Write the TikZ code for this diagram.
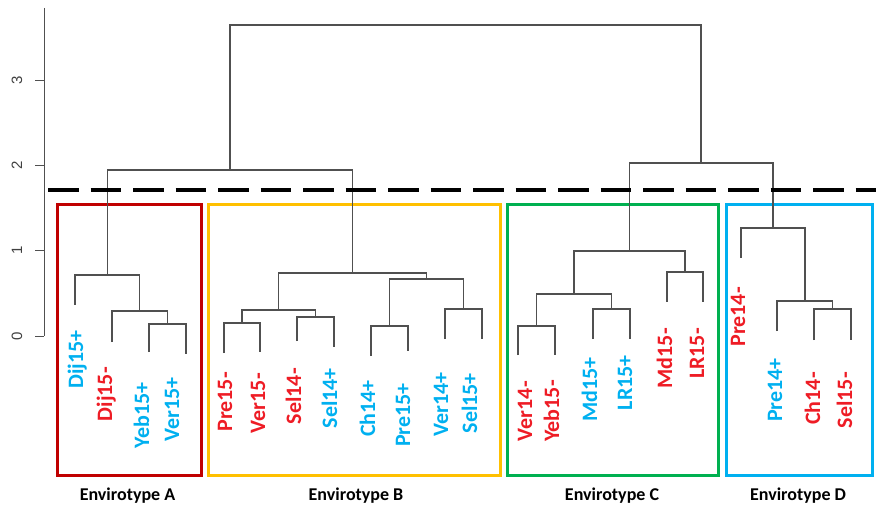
\documentclass[tikz,border=0pt]{standalone}
\usepackage{fontspec}
\setmainfont{Carlito}
\newfontfamily\axisfont{Liberation Sans}
\definecolor{treegray}{HTML}{505050}
\definecolor{plusblue}{HTML}{00B0F0}
\definecolor{minusred}{HTML}{EE1C25}
\definecolor{boxred}{HTML}{C00000}
\definecolor{boxyellow}{HTML}{FFC000}
\definecolor{boxgreen}{HTML}{00B050}
\definecolor{boxblue}{HTML}{00B0F0}
\tikzset{
  link/.style={draw=treegray, line width=1.2pt},
  leaflab/.style={rotate=90, anchor=east, inner sep=0pt,
    font=\bfseries\fontsize{22}{22}\selectfont, text height=0.64em, text depth=0pt},
  pluslab/.style={leaflab, text=plusblue},
  minuslab/.style={leaflab, text=minusred},
  ticklab/.style={rotate=90, inner sep=0pt, text=black!75, font=\axisfont\fontsize{15}{15}\selectfont},
  envbox/.style={line width=3pt},
  envlab/.style={anchor=base, inner sep=0pt, font=\bfseries\fontsize{18}{18}\selectfont},
  cutline/.style={line width=4.5pt, dash pattern=on 30.5pt off 12pt}
}
\begin{document}
\begin{tikzpicture}[x=1pt, y=-1pt]
    \useasboundingbox (0,0) rectangle (876,505);

    % height axis
    \draw[treegray, line width=1pt] (44,8) -- (44,336);
    \draw[treegray, line width=1pt] (35,336) -- (44,336) (35,250.7) -- (44,250.7)
      (35,165.4) -- (44,165.4) (35,80.1) -- (44,80.1);
    \node[ticklab] (t0) at (17,336) {0};
    \node[ticklab] (t1) at (17,250.7) {1};
    \node[ticklab] (t2) at (17,165.4) {2};
    \node[ticklab] (t3) at (17,80.1) {3};

    % envirotype boxes
    \draw[envbox, boxred] (57.7,205) rectangle (201.7,475);
    \draw[envbox, boxyellow] (208.3,205) rectangle (500,475);
    \draw[envbox, boxgreen] (507,205) rectangle (718.5,475);
    \draw[envbox, boxblue] (726,205) rectangle (872,475);
    \node[envlab] (enva) at (127.5,500) {Envirotype A};
    \node[envlab] (envb) at (356,500) {Envirotype B};
    \node[envlab] (envc) at (612,500) {Envirotype C};
    \node[envlab] (envd) at (798,500) {Envirotype D};

    % leaves
    \coordinate (dijp) at (75,305);    \node[pluslab] (ldijp) at (80,330) {Dij15+};
    \coordinate (dijm) at (112,342);   \node[minuslab] (ldijm) at (109,367) {Dij15-};
    \coordinate (yebp) at (149,352);   \node[pluslab] (lyebp) at (146,382) {Yeb15+};
    \coordinate (verp) at (186,354);   \node[pluslab] (lverp) at (176,377) {Ver15+};
    \coordinate (prem) at (224,353);   \node[minuslab] (lprem) at (229,372) {Pre15-};
    \coordinate (verm) at (260,352);   \node[minuslab] (lverm) at (262,373) {Ver15-};
    \coordinate (selm) at (297,341);   \node[minuslab] (lselm) at (298,368) {Sel14-};
    \coordinate (selp) at (334,347);   \node[pluslab] (lselp) at (334,368) {Sel14+};
    \coordinate (chp) at (371,356);    \node[pluslab] (lchp) at (372,380) {Ch14+};
    \coordinate (prep) at (408,351);   \node[pluslab] (lprep) at (407,383) {Pre15+};
    \coordinate (verpp) at (445,339);  \node[pluslab] (lverpp) at (445,372) {Ver14+};
    \coordinate (selpp) at (482,339);  \node[pluslab] (lselpp) at (474,373) {Sel15+};
    \coordinate (vermm) at (518,355);  \node[minuslab] (lvermm) at (529,381) {Ver14-};
    \coordinate (yebm) at (555,355);   \node[minuslab] (lyebm) at (556,380) {Yeb15-};
    \coordinate (mdp) at (593,339);    \node[pluslab] (lmdp) at (594,357) {Md15+};
    \coordinate (lrp) at (630,339);    \node[pluslab] (llrp) at (629,355) {LR15+};
    \coordinate (mdm) at (667,302);    \node[minuslab] (lmdm) at (669,328) {Md15-};
    \coordinate (lrm) at (703,302);    \node[minuslab] (llrm) at (701,328) {LR15-};
    \coordinate (premm) at (741,258);  \node[minuslab] (lpremm) at (742,287) {Pre14-};
    \coordinate (prepp) at (777,331);  \node[pluslab] (lprepp) at (779,358) {Pre14+};
    \coordinate (chm) at (814,340);    \node[minuslab] (lchm) at (817,372) {Ch14-};
    \coordinate (selmm) at (851,340);  \node[minuslab] (lselmm) at (849,372) {Sel15-};

    % merges
    \coordinate (m1) at (167.5,324);
    \coordinate (m2) at (139.8,311);
    \coordinate (m3) at (107.4,275);
    \coordinate (m4) at (242,323);
    \coordinate (m5) at (315.5,317);
    \coordinate (m6) at (278.8,310);
    \coordinate (m7) at (389.5,326);
    \coordinate (m8) at (463.5,309);
    \coordinate (m9) at (426.5,279);
    \coordinate (m10) at (352.6,273);
    \coordinate (m11) at (230,170);
    \coordinate (m12) at (536.5,326);
    \coordinate (m13) at (611.5,309);
    \coordinate (m14) at (574,294);
    \coordinate (m15) at (685,272);
    \coordinate (m16) at (629.5,251);
    \coordinate (m17) at (832.5,309);
    \coordinate (m18) at (805,301);
    \coordinate (m19) at (773,228);
    \coordinate (m20) at (701,163);
    \coordinate (m21) at (465.5,25);

    \draw[link] (yebp) |- (m1) -| (verp);
    \draw[link] (dijm) |- (m2) -| (m1);
    \draw[link] (dijp) |- (m3) -| (m2);
    \draw[link] (prem) |- (m4) -| (verm);
    \draw[link] (selm) |- (m5) -| (selp);
    \draw[link] (m4) |- (m6) -| (m5);
    \draw[link] (chp) |- (m7) -| (prep);
    \draw[link] (verpp) |- (m8) -| (selpp);
    \draw[link] (m7) |- (m9) -| (m8);
    \draw[link] (m6) |- (m10) -| (m9);
    \draw[link] (m3) |- (m11) -| (m10);
    \draw[link] (vermm) |- (m12) -| (yebm);
    \draw[link] (mdp) |- (m13) -| (lrp);
    \draw[link] (m12) |- (m14) -| (m13);
    \draw[link] (mdm) |- (m15) -| (lrm);
    \draw[link] (m14) |- (m16) -| (m15);
    \draw[link] (chm) |- (m17) -| (selmm);
    \draw[link] (prepp) |- (m18) -| (m17);
    \draw[link] (premm) |- (m19) -| (m18);
    \draw[link] (m16) |- (m20) -| (m19);
    \draw[link] (m11) |- (m21) -| (m20);

    % cut height
    \draw[cutline] (48,190) -- (876,190);
\end{tikzpicture}
\end{document}
